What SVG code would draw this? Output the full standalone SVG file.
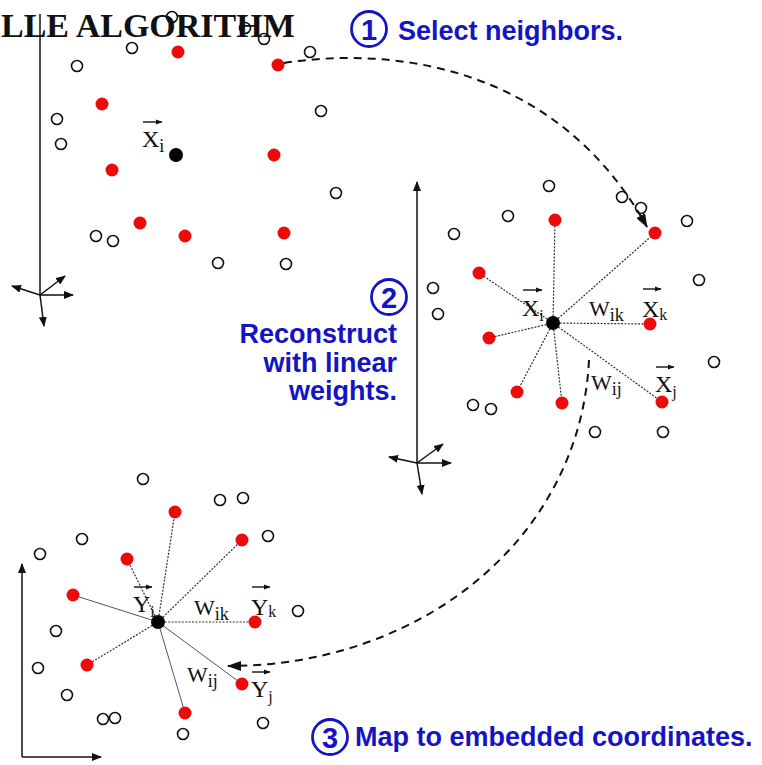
<svg xmlns="http://www.w3.org/2000/svg" width="762" height="765" viewBox="0 0 762 765">
<style>
.o{fill:none;stroke:#111;stroke-width:1.6}
.r{fill:#ee0a0a}
.b{fill:#000}
.ax{stroke:#111;stroke-width:1.5;fill:none}
.dl{stroke:#333;stroke-width:1.2;stroke-dasharray:2 1.4;fill:none}
.sl{stroke:#555;stroke-width:1;fill:none}
.arc{stroke:#111;stroke-width:2;stroke-dasharray:8 6;fill:none}
.lbl{font-family:"Liberation Serif","Times New Roman",serif;font-size:24px;fill:#111}
.w{font-size:22px}
.sub{font-size:16px}
.wsub{font-size:18px}
.vec{stroke:#111;stroke-width:1.4;fill:none}
.step{font-family:"Liberation Sans",Arial,sans-serif;font-weight:bold;font-size:27px;fill:#1414c4}
.num{font-family:"Liberation Sans",Arial,sans-serif;font-weight:bold;font-size:29px;fill:#1414c4;text-anchor:middle}
.nc{fill:none;stroke:#1414c4;stroke-width:2.8}
.title{font-family:"Liberation Serif","Times New Roman",serif;font-weight:bold;font-size:34px;fill:#111}
</style>
<defs>
<marker id="ah" markerWidth="10" markerHeight="8" refX="9" refY="4" orient="auto" markerUnits="userSpaceOnUse"><path d="M0,0 L10,4 L0,8 z" fill="#111"/></marker>
<marker id="vh" markerWidth="7" markerHeight="6" refX="6.5" refY="3" orient="auto" markerUnits="userSpaceOnUse"><path d="M0,0.3 L7,3 L0,5.7 z" fill="#111"/></marker>
<marker id="big" markerWidth="14" markerHeight="10" refX="13" refY="5" orient="auto" markerUnits="userSpaceOnUse"><path d="M0,0 L14,5 L0,10 z" fill="#111"/></marker>
</defs>
<rect width="762" height="765" fill="#fff"/>

<text class="title" x="1" y="37">LLE ALGORITHM</text>

<g id="axes">
<line class="ax" x1="40" y1="295" x2="40" y2="14"/>
<line class="ax" x1="40" y1="295" x2="12" y2="286" marker-end="url(#ah)"/>
<line class="ax" x1="40" y1="295" x2="65" y2="276" marker-end="url(#ah)"/>
<line class="ax" x1="40" y1="295" x2="73" y2="295" marker-end="url(#ah)"/>
<line class="ax" x1="40" y1="295" x2="44" y2="326" marker-end="url(#ah)"/>
<line class="ax" x1="417" y1="463" x2="417" y2="182" marker-end="url(#ah)"/>
<line class="ax" x1="417" y1="463" x2="389" y2="457" marker-end="url(#ah)"/>
<line class="ax" x1="417" y1="463" x2="443" y2="444" marker-end="url(#ah)"/>
<line class="ax" x1="417" y1="463" x2="451" y2="463" marker-end="url(#ah)"/>
<line class="ax" x1="417" y1="463" x2="422" y2="494" marker-end="url(#ah)"/>
<line class="ax" x1="22" y1="757" x2="22" y2="564" marker-end="url(#ah)"/>
<line class="ax" x1="22" y1="757" x2="101" y2="757" marker-end="url(#ah)"/>
</g>

<g id="panel1-points">
<circle class="o" cx="172" cy="17" r="5.5"/>
<circle class="o" cx="245" cy="28" r="5.5"/>
<circle class="o" cx="264" cy="39" r="5.5"/>
<circle class="o" cx="132" cy="48" r="5.5"/>
<circle class="o" cx="77" cy="66" r="5.5"/>
<circle class="o" cx="310" cy="52" r="5.5"/>
<circle class="o" cx="321" cy="111" r="5.5"/>
<circle class="o" cx="57" cy="119" r="5.5"/>
<circle class="o" cx="61" cy="144" r="5.5"/>
<circle class="o" cx="336" cy="193" r="5.5"/>
<circle class="o" cx="96" cy="236" r="5.5"/>
<circle class="o" cx="113" cy="241" r="5.5"/>
<circle class="o" cx="218" cy="263" r="5.5"/>
<circle class="o" cx="286" cy="264" r="5.5"/>
<circle class="r" cx="178" cy="52" r="6.5"/>
<circle class="r" cx="278" cy="65" r="6.5"/>
<circle class="r" cx="102" cy="104" r="6.5"/>
<circle class="r" cx="274" cy="155" r="6.5"/>
<circle class="r" cx="112" cy="170" r="6.5"/>
<circle class="r" cx="140" cy="223" r="6.5"/>
<circle class="r" cx="185" cy="236" r="6.5"/>
<circle class="r" cx="284" cy="233" r="6.5"/>
</g>
<g id="xi-1">
<circle class="b" cx="176" cy="155" r="7"/>
<line class="vec" x1="143" y1="122" x2="162" y2="122" marker-end="url(#vh)"/>
<text class="lbl" x="142" y="147" font-size="27">X<tspan font-size="18" dy="5">i</tspan></text>
</g>

<g id="step1">
<circle class="nc" cx="369" cy="29" r="17.5"/>
<text class="num" x="369" y="39.5">1</text>
<text class="step" x="398" y="40">Select neighbors.</text>
</g>

<g id="panel2-points">
<circle class="o" cx="549" cy="186" r="5.5"/>
<circle class="o" cx="508" cy="216" r="5.5"/>
<circle class="o" cx="454" cy="234" r="5.5"/>
<circle class="o" cx="622" cy="197" r="5.5"/>
<circle class="o" cx="641" cy="208" r="5.5"/>
<circle class="o" cx="687" cy="221" r="5.5"/>
<circle class="o" cx="699" cy="280" r="5.5"/>
<circle class="o" cx="433" cy="288" r="5.5"/>
<circle class="o" cx="438" cy="314" r="5.5"/>
<circle class="o" cx="714" cy="362" r="5.5"/>
<circle class="o" cx="473" cy="405" r="5.5"/>
<circle class="o" cx="491" cy="409" r="5.5"/>
<circle class="o" cx="595" cy="432" r="5.5"/>
<circle class="o" cx="663" cy="432" r="5.5"/>
</g>

<g id="connectors">
<g id="star2">
<line class="dl" x1="553" y1="323" x2="555" y2="220"/>
<line class="dl" x1="553" y1="323" x2="655" y2="233"/>
<line class="dl" x1="553" y1="323" x2="479" y2="273"/>
<line class="dl" x1="553" y1="323" x2="650" y2="324"/>
<line class="dl" x1="553" y1="323" x2="489" y2="338"/>
<line class="dl" x1="553" y1="323" x2="517" y2="392"/>
<line class="dl" x1="553" y1="323" x2="562" y2="403"/>
<line class="dl" x1="553" y1="323" x2="662" y2="402"/>
</g>
<g id="star3">
<line class="dl" x1="158" y1="622" x2="175" y2="512"/>
<line class="dl" x1="158" y1="622" x2="242" y2="540"/>
<line class="dl" x1="158" y1="622" x2="127" y2="559"/>
<line class="sl" x1="158" y1="622" x2="73" y2="595"/>
<line class="dl" x1="158" y1="622" x2="255" y2="622"/>
<line class="dl" x1="158" y1="622" x2="87" y2="665"/>
<line class="sl" x1="158" y1="622" x2="242" y2="684"/>
<line class="sl" x1="158" y1="622" x2="185" y2="713"/>
</g>
<path class="arc" d="M284,63 C400,45 560,70 647,227" marker-end="url(#big)"/>
<path class="arc" d="M589,360 C580,540 420,666 228,666" marker-end="url(#big)"/>
</g>

<g id="panel2-neighbors">
<circle class="r" cx="555" cy="220" r="6.5"/>
<circle class="r" cx="655" cy="233" r="6.5"/>
<circle class="r" cx="479" cy="273" r="6.5"/>
<circle class="r" cx="489" cy="338" r="6.5"/>
<circle class="r" cx="517" cy="392" r="6.5"/>
<circle class="r" cx="562" cy="403" r="6.5"/>
</g>
<g id="xi-2">
<circle class="b" cx="553" cy="323" r="7"/>
<line class="vec" x1="523" y1="290" x2="542" y2="290" marker-end="url(#vh)"/>
<text class="lbl" x="522" y="316">X<tspan class="sub" dy="5">i</tspan></text>
</g>
<g id="xk-2">
<circle class="r" cx="650" cy="324" r="6.5"/>
<line class="vec" x1="643" y1="289" x2="661" y2="289" marker-end="url(#vh)"/>
<text class="lbl" x="642" y="317">X<tspan class="sub" dy="3">k</tspan></text>
</g>
<g id="xj-2">
<circle class="r" cx="662" cy="402" r="6.5"/>
<line class="vec" x1="656" y1="367" x2="674" y2="367" marker-end="url(#vh)"/>
<text class="lbl" x="655" y="392">X<tspan class="sub" dy="5">j</tspan></text>
</g>
<text class="lbl w" x="589" y="316">W<tspan class="wsub" dy="5">ik</tspan></text>
<text class="lbl w" x="591" y="390">W<tspan class="wsub" dy="5">ij</tspan></text>

<g id="step2">
<circle class="nc" cx="389" cy="297" r="17.5"/>
<text class="num" x="389" y="307.5">2</text>
<text class="step" text-anchor="end" font-size="26"><tspan x="397" y="343">Reconstruct</tspan><tspan x="397" y="371.5">with linear</tspan><tspan x="397" y="400">weights.</tspan></text>
</g>

<g id="panel3-points">
<circle class="o" cx="143" cy="479" r="5.5"/>
<circle class="o" cx="220" cy="500" r="5.5"/>
<circle class="o" cx="243" cy="498" r="5.5"/>
<circle class="o" cx="82" cy="539" r="5.5"/>
<circle class="o" cx="268" cy="536" r="5.5"/>
<circle class="o" cx="40" cy="554" r="5.5"/>
<circle class="o" cx="298" cy="611" r="5.5"/>
<circle class="o" cx="56" cy="631" r="5.5"/>
<circle class="o" cx="38" cy="668" r="5.5"/>
<circle class="o" cx="67" cy="695" r="5.5"/>
<circle class="o" cx="103" cy="719" r="5.5"/>
<circle class="o" cx="115" cy="718" r="5.5"/>
<circle class="o" cx="183" cy="734" r="5.5"/>
<circle class="o" cx="263" cy="723" r="5.5"/>
<circle class="r" cx="175" cy="512" r="6.5"/>
<circle class="r" cx="242" cy="540" r="6.5"/>
<circle class="r" cx="127" cy="559" r="6.5"/>
<circle class="r" cx="73" cy="595" r="6.5"/>
<circle class="r" cx="87" cy="665" r="6.5"/>
<circle class="r" cx="185" cy="713" r="6.5"/>
</g>
<g id="yi-3">
<circle class="b" cx="158" cy="622" r="7"/>
<line class="vec" x1="134" y1="587" x2="152" y2="587" marker-end="url(#vh)"/>
<text class="lbl" x="133" y="612">Y<tspan class="sub" dy="5">i</tspan></text>
</g>
<g id="yk-3">
<circle class="r" cx="255" cy="622" r="6.5"/>
<line class="vec" x1="252" y1="587" x2="270" y2="587" marker-end="url(#vh)"/>
<text class="lbl" x="251" y="615">Y<tspan class="sub" dy="2">k</tspan></text>
</g>
<g id="yj-3">
<circle class="r" cx="242" cy="684" r="6.5"/>
<line class="vec" x1="252" y1="672" x2="270" y2="672" marker-end="url(#vh)"/>
<text class="lbl" x="251" y="697">Y<tspan class="sub" dy="5">j</tspan></text>
</g>
<text class="lbl w" x="194" y="615">W<tspan class="wsub" dy="5">ik</tspan></text>
<text class="lbl w" x="187" y="682">W<tspan class="wsub" dy="5">ij</tspan></text>

<g id="step3">
<circle class="nc" cx="330" cy="737" r="17.5"/>
<text class="num" x="330" y="747.5">3</text>
<text class="step" x="355" y="746">Map to embedded coordinates.</text>
</g>
</svg>
